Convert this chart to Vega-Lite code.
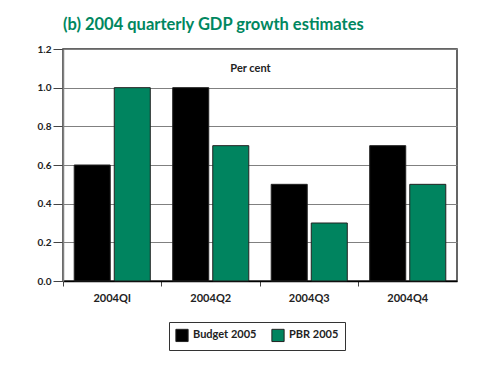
{
  "$schema": "https://vega.github.io/schema/vega-lite/v6.json",
  "width": 394,
  "height": 232,
  "padding": {"left": 63, "top": 49, "right": 23, "bottom": 98},
  "autosize": {"type": "none"},
  "background": "#ffffff",
  "title": {
    "text": "(b) 2004 quarterly GDP growth estimates",
    "anchor": "start",
    "frame": "group",
    "font": "Lato",
    "fontSize": 16.5,
    "fontWeight": "bold",
    "color": "#00875f",
    "offset": 11
  },
  "data": {
    "values": [
      {"quarter": "2004QI", "series": "Budget 2005", "value": 0.6},
      {"quarter": "2004QI", "series": "PBR 2005", "value": 1.0},
      {"quarter": "2004Q2", "series": "Budget 2005", "value": 1.0},
      {"quarter": "2004Q2", "series": "PBR 2005", "value": 0.7},
      {"quarter": "2004Q3", "series": "Budget 2005", "value": 0.5},
      {"quarter": "2004Q3", "series": "PBR 2005", "value": 0.3},
      {"quarter": "2004Q4", "series": "Budget 2005", "value": 0.7},
      {"quarter": "2004Q4", "series": "PBR 2005", "value": 0.5}
    ]
  },
  "mark": {"type": "bar", "stroke": "#222222", "strokeWidth": 1},
  "encoding": {
    "x": {
      "field": "quarter",
      "type": "nominal",
      "sort": null,
      "scale": {"paddingInner": 0, "paddingOuter": 0},
      "axis": {
        "title": null,
        "labelAngle": 0,
        "bandPosition": 0,
        "ticks": true,
        "tickSize": 5,
        "tickColor": "#444444",
        "domainColor": "#000000",
        "domainWidth": 1.5,
        "labelPadding": 6,
        "labelFont": "Lato",
        "labelFontSize": 11,
        "labelFontWeight": "bold",
        "labelColor": "#222222",
        "grid": false
      }
    },
    "xOffset": {
      "field": "series",
      "type": "nominal",
      "scale": {"paddingInner": 0.1, "paddingOuter": 0.28}
    },
    "y": {
      "field": "value",
      "type": "quantitative",
      "scale": {"domain": [0, 1.2], "nice": false},
      "axis": {
        "values": [0, 0.2, 0.4, 0.6, 0.8, 1.0, 1.2],
        "format": ".1f",
        "title": "Per cent",
        "titleAngle": 0,
        "titleX": 187,
        "titleY": 19,
        "titleAlign": "center",
        "titleBaseline": "middle",
        "titleFont": "Lato",
        "titleFontSize": 11,
        "titleFontWeight": "bold",
        "titleColor": "#222222",
        "grid": true,
        "gridColor": "#808080",
        "gridWidth": 1.2,
        "domainColor": "#808080",
        "domainWidth": 1.5,
        "tickColor": "#444444",
        "tickSize": 10,
        "labelPadding": 2,
        "labelFont": "Lato",
        "labelFontSize": 10,
        "labelFontWeight": "bold",
        "labelColor": "#222222"
      }
    },
    "color": {
      "field": "series",
      "type": "nominal",
      "scale": {"domain": ["Budget 2005", "PBR 2005"], "range": ["#000000", "#00845f"]},
      "legend": {
        "title": null,
        "orient": "none",
        "legendX": 106,
        "legendY": 273,
        "direction": "horizontal",
        "padding": 6,
        "strokeColor": "#333333",
        "symbolType": "square",
        "symbolSize": 150,
        "symbolStrokeColor": "#222222",
        "symbolStrokeWidth": 1,
        "symbolOpacity": 1,
        "columnPadding": 12,
        "labelFont": "Lato",
        "labelFontSize": 11,
        "labelFontWeight": "bold",
        "labelColor": "#222222"
      }
    }
  },
  "config": {
    "view": {"stroke": "#333333", "strokeWidth": 1.5}
  }
}
